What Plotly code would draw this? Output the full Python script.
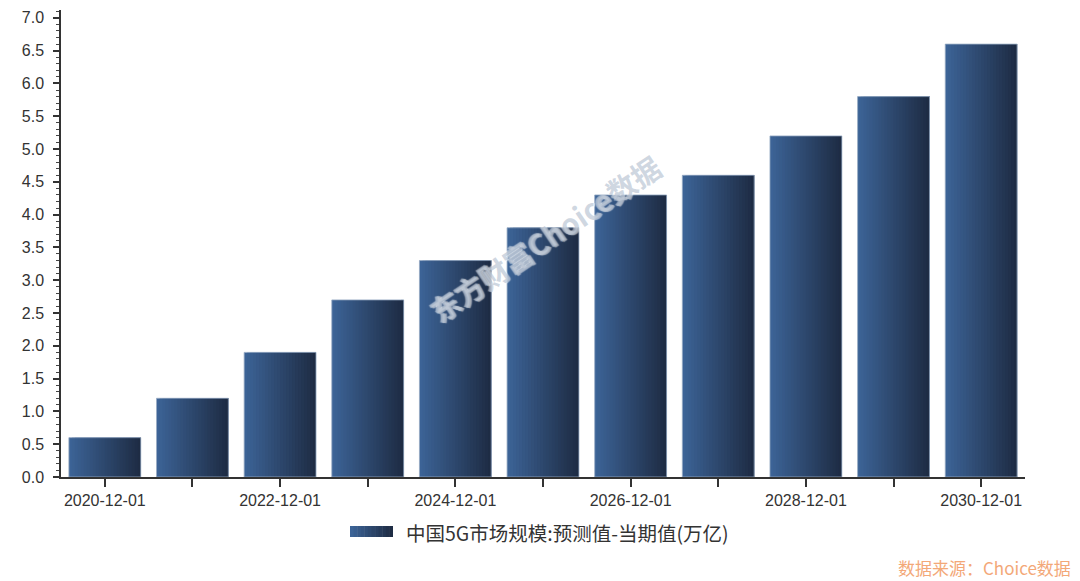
import plotly.graph_objects as go

categories = ["2020-12-01", "2021-12-01", "2022-12-01", "2023-12-01", "2024-12-01",
              "2025-12-01", "2026-12-01", "2027-12-01", "2028-12-01", "2029-12-01", "2030-12-01"]
values = [0.6, 1.2, 1.9, 2.7, 3.3, 3.8, 4.3, 4.6, 5.2, 5.8, 6.6]
tick_labels = [c if i % 2 == 0 else "" for i, c in enumerate(categories)]
series_name = "中国5G市场规模:预测值-当期值(万亿)"

FONT = "Liberation Sans, Arial, Noto Sans CJK SC, sans-serif"
CJK = "Noto Sans CJK SC, Liberation Sans, sans-serif"

c_left = (60, 99, 150)
c_right = (30, 44, 68)

def mix(t):
    r = [round(c_left[k] + (c_right[k] - c_left[k]) * t) for k in range(3)]
    return f"rgb({r[0]},{r[1]},{r[2]})"

fig = go.Figure()
bw = 0.82
n = 24
step = bw / n
for i in range(n):
    t = i / (n - 1)
    off = -bw / 2 + i * step
    wid = min(3 * step, bw / 2 - off)
    fig.add_trace(go.Bar(
        x=categories, y=values,
        width=wid, offset=off,
        marker=dict(color=mix(t), line=dict(width=0)),
        showlegend=False, hoverinfo="skip",
    ))
# thin light outline
fig.add_trace(go.Bar(
    x=categories, y=values, width=bw, offset=-bw / 2,
    marker=dict(color="rgba(0,0,0,0)", line=dict(color="rgba(150,170,195,0.8)", width=1)),
    showlegend=False, name=series_name,
))

# legend drawn manually (gradient swatch + text)
W, H = 1080, 581
ml, mr, mt, mb = 61, 55, 10, 104
pw, ph = W - ml - mr, H - mt - mb
def px(x):
    return (x - ml) / pw
def py(y):
    return (H - mb - y) / ph

shapes = []
sw_l, sw_r, sw_t, sw_b = 350, 393, 526, 537
m = 12
for i in range(m):
    t = i / (m - 1)
    x0 = sw_l + (sw_r - sw_l) * i / m
    x1 = sw_l + (sw_r - sw_l) * (i + 1) / m + 0.5
    shapes.append(dict(type="rect", xref="paper", yref="paper",
                       x0=px(x0), x1=px(min(x1, sw_r)), y0=py(sw_b), y1=py(sw_t),
                       fillcolor=mix(t), line=dict(width=0)))

annotations = [
    dict(text=series_name, xref="paper", yref="paper", x=px(404), y=py(532),
         xanchor="left", yanchor="middle", showarrow=False,
         font=dict(family=CJK, size=19.5, color="#333333")),
    dict(text="数据来源：Choice数据", xref="paper", yref="paper", x=px(1073), y=py(567),
         xanchor="right", yanchor="middle", showarrow=False,
         font=dict(family=CJK, size=17, color="rgb(243,168,120)")),
    dict(text="东方财富Choice数据", xref="paper", yref="paper", x=px(545), y=py(238),
         xanchor="center", yanchor="middle", showarrow=False, textangle=-34,
         font=dict(family=CJK, size=29, weight="bold", color="rgba(175,188,205,0.6)",
                   shadow="1px 1px 1px rgba(255,255,255,0.9), -1px -1px 1px rgba(255,255,255,0.9)")),
]

fig.update_layout(
    width=W, height=H,
    margin=dict(l=ml, r=mr, t=mt, b=mb, autoexpand=False),
    paper_bgcolor="white", plot_bgcolor="white",
    barmode="overlay",
    showlegend=False,
    font=dict(family=FONT, size=16, color="#333333"),
    shapes=shapes,
    annotations=annotations,
)
fig.update_xaxes(
    type="category", tickvals=categories, ticktext=tick_labels,
    showline=True, linecolor="#333333", linewidth=1.5,
    ticks="outside", ticklen=8, tickcolor="#333333", tickwidth=1.5,
    showgrid=False, zeroline=False, automargin=False,
    tickfont=dict(family=FONT, size=16, color="#333333"),
)
fig.update_yaxes(
    range=[0, 7.12], dtick=0.5, tick0=0, tickformat=".1f",
    showline=True, linecolor="#333333", linewidth=1.5,
    ticks="outside", ticklen=6, tickcolor="#333333", tickwidth=1.5,
    minor=dict(dtick=0.1, ticks="outside", ticklen=3, tickcolor="#444444", tickwidth=1),
    showgrid=False, zeroline=False, automargin=False,
    ticklabelstandoff=6,
    tickfont=dict(family=FONT, size=16, color="#333333"),
)

fig.write_html("out.html", config={"displayModeBar": False},
               post_script="document.body.style.margin='0';document.body.style.padding='0';")
